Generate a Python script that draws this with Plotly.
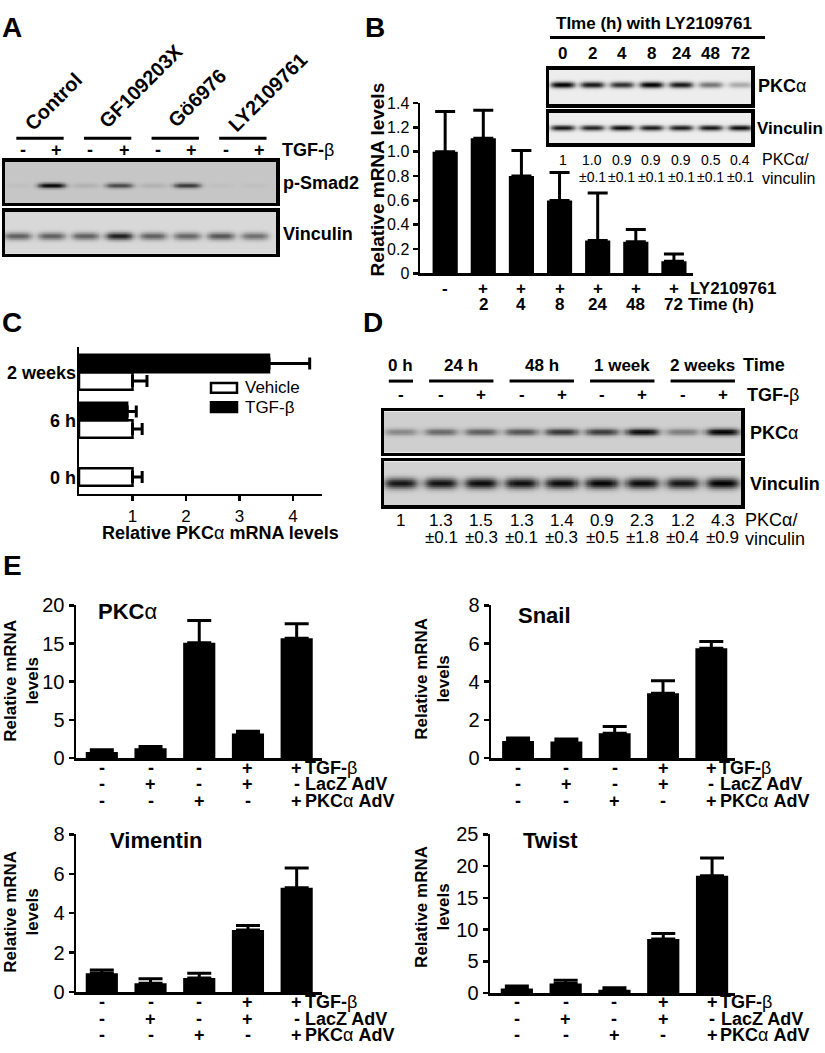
import re
import numpy as np
import plotly.graph_objects as go

W, H = 825, 1053
FONT = "Liberation Sans, Arial, Helvetica, sans-serif"

# ---------------- DATA ----------------
# Panel A (western blot, 8 lanes)
a_groups = ["Control", "GF109203X", "Gö6976", "LY2109761"]
a_tgfb = ["-", "+", "-", "+", "-", "+", "-", "+"]
a_psmad2 = [0.03, 0.95, 0.10, 0.62, 0.10, 0.70, 0.03, 0.03]
a_vinculin = [0.55, 0.55, 0.55, 0.85, 0.55, 0.52, 0.60, 0.48]

# Panel B
b_ly = ["-", "+", "+", "+", "+", "+", "+"]
b_time = ["", "2", "4", "8", "24", "48", "72"]
b_mrna = [1.00, 1.11, 0.80, 0.60, 0.27, 0.26, 0.10]
b_mrna_err = [0.33, 0.23, 0.21, 0.23, 0.39, 0.10, 0.06]
b_yticks = [0, 0.2, 0.4, 0.6, 0.8, 1.0, 1.2, 1.4]
b_yticklabels = ["0", "0.2", "0.4", "0.6", "0.8", "1.0", "1.2", "1.4"]
b_blot_time = ["0", "2", "4", "8", "24", "48", "72"]
b_blot_pkca = [1.0, 0.9, 0.8, 1.0, 0.9, 0.5, 0.28]
b_blot_vinculin = [0.9, 0.85, 0.95, 0.88, 0.88, 0.9, 0.95]
b_ratio = ["1", "1.0", "0.9", "0.9", "0.9", "0.5", "0.4"]
b_ratio_sd = ["", "±0.1", "±0.1", "±0.1", "±0.1", "±0.1", "±0.1"]

# Panel C
c_times = ["0 h", "6 h", "2 weeks"]
c_series = ["Vehicle", "TGF-β"]
c_vehicle = [1.0, 1.0, 1.0]
c_vehicle_err = [0.18, 0.18, 0.27]
c_tgfb = [None, 0.90, 3.55]
c_tgfb_err = [None, 0.17, 0.76]
c_xticks = [1, 2, 3, 4]

# Panel D (western blot, 9 lanes)
d_time = ["0 h", "24 h", "48 h", "1 week", "2 weeks"]
d_lanes_per_time = [1, 2, 2, 2, 2]
d_tgfb = ["-", "-", "+", "-", "+", "-", "+", "-", "+"]
d_blot_pkca = [0.35, 0.50, 0.55, 0.60, 0.75, 0.72, 0.95, 0.40, 1.0]
d_blot_vinculin = [0.90, 0.92, 0.95, 0.93, 0.95, 0.98, 0.95, 0.90, 1.0]
d_ratio = ["1", "1.3", "1.5", "1.3", "1.4", "0.9", "2.3", "1.2", "4.3"]
d_ratio_sd = ["", "±0.1", "±0.3", "±0.1", "±0.3", "±0.5", "±1.8", "±0.4", "±0.9"]

# Panel E
e_tgfb = ["-", "-", "-", "+", "+"]
e_lacz = ["-", "+", "-", "+", "-"]
e_pkca_adv = ["-", "-", "+", "-", "+"]
e_pkca = [0.8, 1.3, 15.1, 3.2, 15.7]
e_pkca_err = [0.3, 0.2, 2.9, 0.3, 1.9]
e_snail = [0.90, 0.87, 1.30, 3.40, 5.75]
e_snail_err = [0.15, 0.13, 0.35, 0.65, 0.35]
e_vimentin = [0.95, 0.45, 0.72, 3.15, 5.30]
e_vimentin_err = [0.17, 0.23, 0.23, 0.23, 1.00]
e_twist = [0.7, 1.5, 0.5, 8.5, 18.5]
e_twist_err = [0.4, 0.5, 0.35, 0.9, 2.8]

# ---------------- HELPERS ----------------
def fx(x):
    return x / W


def fy(y):
    return 1 - y / H


# approximate Arial / Liberation Sans advance widths (1/1000 em)
REG = dict(zip(" 0123456789.±/-αβPKCVTGFehiclnvu",
               [278] + [556] * 10 + [278, 549, 278, 333, 578, 575,
                                     667, 667, 722, 667, 611, 778, 611,
                                     556, 556, 222, 500, 222, 556, 500, 556]))
BOLD = dict(zip(" 0123456789-+()ABCDEFGHIKLMNPRSTVXYZacdehiklmnoprstuvwx",
                [278] + [556] * 10 + [333, 584, 333, 333,
                                      722, 722, 722, 722, 667, 611, 778, 722,
                                      278, 722, 611, 833, 722, 667, 722, 667,
                                      611, 667, 667, 667, 611,
                                      556, 556, 611, 556, 611, 278, 556, 278,
                                      889, 611, 611, 611, 389, 556, 333, 611,
                                      556, 778, 556]))


def text_width(t, size):
    w = 0.0
    bold = False
    for part in re.split(r"(</?b>)", t):
        if part == "<b>":
            bold = True
        elif part == "</b>":
            bold = False
        else:
            for ch in part:
                table = BOLD if bold else REG
                w += table.get(ch, REG.get(ch, 580))
    return w * size / 1000.0


layout = dict(
    width=W, height=H, margin=dict(l=0, r=0, t=0, b=0),
    paper_bgcolor="white", plot_bgcolor="rgba(0,0,0,0)",
    barmode="group", bargap=0.27, bargroupgap=0,
    font=dict(family=FONT, color="black"),
    showlegend=False,
)
annotations = []
shapes = []
traces = []
axis_px = {}


def axes(n, x0, x1, y0, y1, xr, yr, xopt=None, yopt=None):
    s = "" if n == 1 else str(n)
    base = dict(showgrid=False, zeroline=False, showline=True,
                linecolor="black", fixedrange=True)
    xa = dict(base, domain=[fx(x0), fx(x1)], range=xr, anchor="y" + s)
    ya = dict(base, domain=[fy(y1), fy(y0)], range=yr, anchor="x" + s)
    xa.update(xopt or {})
    ya.update(yopt or {})
    layout["xaxis" + s] = xa
    layout["yaxis" + s] = ya
    axis_px["x" + s] = (x0, x1, xr)
    return "x" + s, "y" + s


def data_to_px(xref, v):
    x0, x1, xr = axis_px[xref]
    return x0 + (v - xr[0]) / (xr[1] - xr[0]) * (x1 - x0)


def blot_axes(n, x0, x1, y0, y1, xr):
    opt = dict(mirror=True, linewidth=3.5, showticklabels=False, ticks="")
    return axes(n, x0, x1, y0, y1, xr, [0, 1], dict(opt), dict(opt))


def bar_axes(n, x0, x1, y0, y1, xr, yr, tickvals, ticktext, tsize):
    xopt = dict(linewidth=2.5, showticklabels=False, ticks="")
    yopt = dict(linewidth=2.5, ticks="outside", ticklen=5, tickwidth=2.5,
                tickcolor="black", tickvals=tickvals, ticktext=ticktext,
                tickfont=dict(size=tsize, family=FONT, color="black"))
    return axes(n, x0, x1, y0, y1, xr, yr, xopt, yopt)


def txt(t, x, y, size, left=False, right=False, angle=0, xref="paper"):
    """Text centred at (x, y) pixels; left/right: x is that edge."""
    if xref != "paper":
        x = data_to_px(xref, x)
    if left:
        x = x + text_width(t, size) / 2.0
    if right:
        x = x - text_width(t, size) / 2.0
    annotations.append(dict(
        text=t, x=fx(x), y=fy(y), xref="paper", yref="paper",
        showarrow=False, xanchor="center", yanchor="middle", textangle=angle,
        borderpad=0, borderwidth=0,
        font=dict(size=size, family=FONT, color="black")))


def hline(x0, x1, y, xref="paper", width=3):
    shapes.append(dict(type="line", xref=xref, yref="paper",
                       x0=fx(x0) if xref == "paper" else x0,
                       x1=fx(x1) if xref == "paper" else x1,
                       y0=fy(y), y1=fy(y),
                       line=dict(color="black", width=width)))


def blot(intens, xr, yc, hy, wx, bg, xa, ya):
    xs = np.linspace(xr[0], xr[1], 330)
    ys = np.linspace(0, 1, 70)
    X, Y = np.meshgrid(xs, ys)
    z = np.zeros_like(X)
    for i, v in enumerate(intens):
        z += v * np.exp(-((X - i) / wx) ** 4) * np.exp(-((Y - yc) / hy) ** 2)
    z = np.round(np.clip(z, 0, 1), 3)
    traces.append(go.Heatmap(
        x=np.round(xs, 4), y=np.round(ys, 4), z=z, zmin=0, zmax=1,
        colorscale=[[0, bg], [1, "#000000"]], showscale=False,
        hoverinfo="skip", xaxis=xa, yaxis=ya))


def bars(xa, ya, vals, errs, width, capw):
    traces.append(go.Bar(
        x=list(range(len(vals))), y=vals, width=width,
        marker=dict(color="black", line=dict(width=0)),
        error_y=dict(type="data", symmetric=False, array=errs,
                     arrayminus=[0] * len(vals), color="black",
                     thickness=3, width=capw),
        showlegend=False, hoverinfo="skip", xaxis=xa, yaxis=ya))


B = lambda s: f"<b>{s}</b>"

# ---------------- PANEL A ----------------
txt(B("A"), 12, 17, 28)
xrA = [-0.385, 7.63]
xa1, ya1 = blot_axes(1, 5, 276, 154, 196, xrA)
xa2, ya2 = blot_axes(2, 5, 276, 205, 248, xrA)
blot(a_psmad2, xrA, 0.42, 0.065, 0.41, "#c6c6c6", xa1, ya1)
blot(a_vinculin, xrA, 0.42, 0.09, 0.41, "#d8d8d8", xa2, ya2)
a_label_pos = [(53, 93), (141, 77), (197, 89), (268, 83)]
for g, (lx, ly) in zip(a_groups, a_label_pos):
    txt(B(g), lx, ly, 20, angle=-45)
for k in range(len(a_groups)):
    hline(2 * k - 0.05, 2 * k + 1.35, 130, xref=xa1)
for i, s in enumerate(a_tgfb):
    txt(B(s), i + 0.14, 142, 18, xref=xa1)
txt(B("TGF-") + "β", 282, 142, 18, left=True)
txt(B("p-Smad2"), 283, 176, 18, left=True)
txt(B("Vinculin"), 283, 228, 18, left=True)

# ---------------- PANEL B ----------------
txt(B("B"), 375, 17, 28)
xa3, ya3 = bar_axes(3, 420, 693, 94, 268, [-0.66, 6.5], [0, 1.4],
                    b_yticks, b_yticklabels, 16)
bars(xa3, ya3, b_mrna, b_mrna_err, 0.66, 10)
txt(B("Relative mRNA levels"), 377, 172, 19, angle=-90)
for i, (s, t) in enumerate(zip(b_ly, b_time)):
    txt(B(s), i, 283, 17, xref=xa3)
    if t:
        txt(B(t), i, 300, 17, xref=xa3)
txt(B("LY2109761"), 689, 283, 17, left=True)
txt(B("Time (h)"), 688, 300, 17, left=True)

xrB = [-0.47, 6.37]
xa4, ya4 = blot_axes(4, 549, 751, 60, 95, xrB)
xa5, ya5 = blot_axes(5, 549, 751, 104, 135, xrB)
blot(b_blot_pkca, xrB, 0.55, 0.09, 0.41, "#ededed", xa4, ya4)
blot(b_blot_vinculin, xrB, 0.5, 0.09, 0.41, "#ededed", xa5, ya5)
txt(B("TIme (h) with LY2109761"), 654, 13, 17)
hline(550, 765, 27)
for i, t in enumerate(b_blot_time):
    txt(B(t), i, 43, 17, xref=xa4)
txt(B("PKC") + "α", 758, 77, 18, left=True)
txt(B("Vinculin"), 757, 120, 17, left=True)
for i, (r, sd) in enumerate(zip(b_ratio, b_ratio_sd)):
    txt(r, i, 152, 14, xref=xa4)
    if sd:
        txt(sd, i, 170, 14, xref=xa4)
txt("PKCα/", 762, 152, 16, left=True)
txt("vinculin", 762, 171, 16, left=True)

# ---------------- PANEL C ----------------
txt(B("C"), 12, 318, 28)
xa6, ya6 = axes(
    6, 79, 322, 343, 493, [0, 4.54], [-0.53, 2.53],
    dict(linewidth=2.5, ticks="outside", ticklen=5, tickwidth=2.5,
         tickcolor="black", tickvals=c_xticks,
         tickfont=dict(size=17, family=FONT, color="black")),
    dict(linewidth=2.5, ticks="", type="category",
         categoryorder="array", categoryarray=c_times,
         showticklabels=False))
c_styles = [dict(color="white", line=dict(color="black", width=2.5)),
            dict(color="black", line=dict(color="black", width=2.5))]
for name, vals, errs, mk in zip(c_series, (c_vehicle, c_tgfb),
                                (c_vehicle_err, c_tgfb_err), c_styles):
    traces.append(go.Bar(
        y=c_times, x=vals, orientation="h", name=name, marker=mk,
        error_x=dict(type="data", symmetric=False, array=errs,
                     arrayminus=[0] * len(vals), color="black",
                     thickness=3, width=6),
        hoverinfo="skip", xaxis=xa6, yaxis=ya6))
# category labels (the "0 h" label sits level with its vehicle bar)
c_label_y = [477, 419, 370]
for t, yl in zip(c_times, c_label_y):
    txt(B(t), 76, yl, 18, right=True)
txt(B("Relative PKC") + "α" + B(" mRNA levels"), 220, 533, 18)
# legend (key boxes + names)
for k, (name, mk) in enumerate(zip(c_series, c_styles)):
    yc = 385 + 19.5 * k
    shapes.append(dict(type="rect", xref="paper", yref="paper",
                       x0=fx(211), x1=fx(237), y0=fy(yc - 5), y1=fy(yc + 5),
                       fillcolor=mk["color"],
                       line=dict(color="black", width=2.5)))
    txt(name, 245, yc, 17, left=True)

# ---------------- PANEL D ----------------
txt(B("D"), 373, 318, 28)
xrD = [-0.42, 8.45]
xa7, ya7 = blot_axes(7, 384, 741, 409, 451, xrD)
xa8, ya8 = blot_axes(8, 384, 741, 460, 505, xrD)
blot(d_blot_pkca, xrD, 0.5, 0.085, 0.42, "#cfcfcf", xa7, ya7)
blot(d_blot_vinculin, xrD, 0.5, 0.12, 0.42, "#d2d2d2", xa8, ya8)
lane = 0
for t, n in zip(d_time, d_lanes_per_time):
    first, last = lane, lane + n - 1
    txt(B(t), (first + last) / 2, 362, 17, xref=xa7)
    hline(first - 0.3, last + 0.3, 378, xref=xa7)
    lane += n
txt(B("Time"), 743, 362, 18, left=True)
for i, s in enumerate(d_tgfb):
    txt(B(s), i, 392, 17, xref=xa7)
txt(B("TGF-") + "β", 747, 392, 18, left=True)
txt(B("PKC") + "α", 750, 431, 18, left=True)
txt(B("Vinculin"), 750, 483, 18, left=True)
for i, (r, sd) in enumerate(zip(d_ratio, d_ratio_sd)):
    txt(r, i, 520, 17, xref=xa7)
    if sd:
        txt(sd, i, 538, 17, xref=xa7)
txt("PKCα/", 745, 520, 18, left=True)
txt("vinculin", 745, 539, 18, left=True)

# ---------------- PANEL E ----------------
txt(B("E"), 12, 566, 28)
e_panels = [
    (9, "PKCα", e_pkca, e_pkca_err, (76, 322, 607, 763),
     [-0.53, 4.52], [0, 20], [0, 5, 10, 15, 20], (98, 613), (22, 684),
     (773, 790, 807)),
    (10, "Snail", e_snail, e_snail_err, (491, 735, 607, 763),
     [-0.56, 4.49], [0, 8], [0, 2, 4, 6, 8], (518, 617), (433, 682),
     (773, 790, 807)),
    (11, "Vimentin", e_vimentin, e_vimentin_err, (76, 322, 841, 1002),
     [-0.53, 4.52], [0, 8], [0, 2, 4, 6, 8], (110, 847), (22, 920),
     (1012, 1029, 1046)),
    (12, "Twist", e_twist, e_twist_err, (490, 735, 841, 1003),
     [-0.55, 4.47], [0, 25], [0, 5, 10, 15, 20, 25], (522, 847), (433, 915),
     (1012, 1029, 1046)),
]
for n, title, vals, errs, (x0, x1, y0, y1), xr, yr, tv, tpos, ypos, rows in e_panels:
    xa, ya = bar_axes(n, x0, x1, y0, y1, xr, yr, tv, [str(v) for v in tv], 20)
    bars(xa, ya, vals, errs, 0.66, 12)
    if title.endswith("α"):
        ttl = B(title[:-1]) + "α"
    else:
        ttl = B(title)
    txt(ttl, tpos[0], tpos[1], 22, left=True)
    txt(B("Relative mRNA<br>levels"), ypos[0], ypos[1], 17, angle=-90)
    last_px = data_to_px(xa, len(vals) - 1)
    for signs, label, yrow in zip(
            (e_tgfb, e_lacz, e_pkca_adv),
            (B("TGF-") + "β", B("LacZ AdV"), B("PKC") + "α" + B(" AdV")),
            rows):
        for i, s in enumerate(signs):
            txt(B(s), i, yrow, 18, xref=xa)
        txt(label, last_px + 8, yrow, 18, left=True)

layout["annotations"] = annotations
layout["shapes"] = shapes
fig = go.Figure(data=traces, layout=layout)
fig.write_html(
    "out.html",
    config={"displayModeBar": False, "staticPlot": True},
    post_script="document.body.style.margin='0';"
                "document.body.style.padding='0';"
                "document.body.style.overflow='hidden';")
